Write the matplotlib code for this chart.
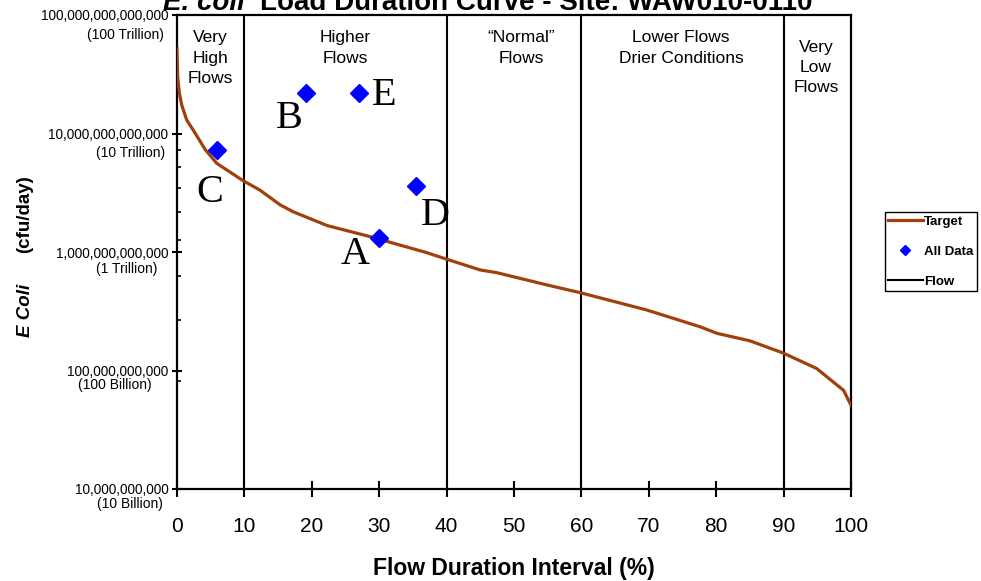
import matplotlib
matplotlib.use("Agg")
import matplotlib.pyplot as plt
from matplotlib.lines import Line2D

sans = 'Liberation Sans'
serif = 'Liberation Serif'

# ---- data ----
# target load duration curve
curve_pct = [0, 0.1, 0.35, 0.7, 1.44, 2.4, 4.2, 5.9, 9.8, 12.3, 15.3, 17.2, 22.3, 28.6,
             37.0, 40.0, 45.0, 47.4, 54.9, 59.8, 69.7, 77.6, 80.1, 85.0, 90.0, 94.9,
             98.9, 100]
curve_load = [5.2e13, 3.0e13, 2.2e13, 1.74e13, 1.3e13, 1.07e13, 7.3e12, 5.6e12, 4.0e12,
              3.33e12, 2.5e12, 2.19e12, 1.67e12, 1.35e12, 9.9e11, 8.7e11, 7.05e11,
              6.7e11, 5.27e11, 4.54e11, 3.24e11, 2.34e11, 2.06e11, 1.78e11, 1.40e11,
              1.04e11, 6.8e10, 5.1e10]

# sampled data points
pt_names = ['A', 'B', 'C', 'D', 'E']
pt_pct = [29.9, 19.2, 6.0, 35.4, 27.0]
pt_load = [1.31e12, 2.18e13, 7.3e12, 3.6e12, 2.18e13]
# where the letter sits (center x, baseline y)
lab_pct = [26.4, 16.6, 4.9, 38.3, 30.7]
lab_load = [7.9e11, 1.11e13, 2.65e12, 1.69e12, 1.74e13]

# flow regime boundaries and names
bounds = [10, 40, 60, 90]
zone_names = ['Very\nHigh\nFlows', 'Higher\nFlows', '\u201cNormal\u201d\nFlows',
              'Lower Flows\nDrier Conditions', 'Very\nLow\nFlows']
zone_x = [4.9, 24.9, 51.1, 74.8, 94.8]
zone_top = [0.968, 0.968, 0.968, 0.968, 0.948]

yticks = [1e10, 1e11, 1e12, 1e13, 1e14]
ytick_main = ['10,000,000,000', '100,000,000,000', '1,000,000,000,000',
              '10,000,000,000,000', '100,000,000,000,000']
ytick_sub = ['(10 Billion)', '(100 Billion)', '(1 Trillion)', '(10 Trillion)', '(100 Trillion)']
sub_dx = [10, 18, 14.4, 8.6, 9.4]      # points left of axis
sub_dy = [10.8, 10.8, 12.2, 13.7, 14.4]  # points below tick
yminor = [8.2e10, 2.67e11, 6.3e11, 1.26e12, 2.18e12, 3.47e12, 5.2e12, 7.3e12]

brown = '#A0400A'

fig = plt.figure(figsize=(9.81, 5.81), dpi=100)
ax = fig.add_axes([177/981, 92/581, 674/981, 474/581])

ax.plot(curve_pct, curve_load, color=brown, lw=2.3, zorder=3)
ax.plot(pt_pct, pt_load, 'D', color='blue', ms=9.5, mec='blue', zorder=4)
for b in bounds:
    ax.axvline(b, color='black', lw=1.5, zorder=2)

for n, x, y in zip(pt_names, lab_pct, lab_load):
    ax.text(x, y, n, family=serif, fontsize=29, ha='center', va='baseline', zorder=5)

for t, x, y in zip(zone_names, zone_x, zone_top):
    ax.text(x, y, t, transform=ax.get_xaxis_transform(), family=sans, fontsize=12.5,
            ha='center', va='top', multialignment='center', linespacing=1.45)

ax.set_yscale('log')
ax.set_xlim(0, 100)
ax.set_ylim(1e10, 1e14)
ax.set_xticks(range(0, 101, 10))
ax.set_xticklabels([str(v) for v in range(0, 101, 10)], family=sans, fontsize=15)
ax.set_yticks(yticks)
ax.set_yticklabels(ytick_main, family=sans, fontsize=9.8)
ax.set_yticks(yminor, minor=True)
ax.yaxis.set_minor_formatter(plt.NullFormatter())
ax.tick_params(axis='x', which='major', direction='inout', length=11.5, width=1.5, pad=14.5)
ax.tick_params(axis='y', which='major', direction='inout', length=6.5, width=1.5, pad=3)
ax.tick_params(axis='y', which='minor', direction='in', length=3, width=1.2)
ax.tick_params(axis='x', which='minor', bottom=False)
for s in ax.spines.values():
    s.set_linewidth(1.6)

trans = ax.get_yaxis_transform()
for v, s, dx, dy in zip(yticks, ytick_sub, sub_dx, sub_dy):
    ax.annotate(s, xy=(0, v), xycoords=trans, xytext=(-dx, -dy), textcoords='offset points',
                ha='right', va='center', family=sans, fontsize=10)

ax.set_xlabel('Flow Duration Interval (%)', family=sans, fontsize=16.5,
              fontweight='bold', labelpad=15)

# y label in two pieces (italic species name)
fig.text(25/981, 1 - 310/581, 'E Coli', family=sans, fontsize=13.5, fontweight='bold',
         style='italic', rotation=90, ha='center', va='center')
fig.text(25/981, 1 - 214/581, '(cfu/day)', family=sans, fontsize=13.5, fontweight='bold',
         rotation=90, ha='center', va='center')

# title, top is cut off like the original
fig.text(163/981, 1 - 10/581, 'E. coli', family=sans, fontsize=20, fontweight='bold',
         style='italic', ha='left', va='baseline')
fig.text(812/981, 1 - 10/581, 'Load Duration Curve - Site: WAW010-0110', family=sans,
         fontsize=20, fontweight='bold', ha='right', va='baseline')

handles = [Line2D([], [], color=brown, lw=2.3),
           Line2D([], [], ls='none', marker='D', color='blue', ms=5.5),
           Line2D([], [], color='black', lw=1.5)]
leg = fig.legend(handles, ['Target', 'All Data', 'Flow'], loc='upper left',
                 bbox_to_anchor=(885/981, 1 - 212/581), borderaxespad=0,
                 prop={'family': sans, 'weight': 'bold', 'size': 9.5},
                 handlelength=2.6, handletextpad=0.1, labelspacing=1.35,
                 fancybox=False, framealpha=1, edgecolor='black', borderpad=0.25)
leg.get_frame().set_linewidth(1.0)

fig.savefig('out.png', dpi=100)
